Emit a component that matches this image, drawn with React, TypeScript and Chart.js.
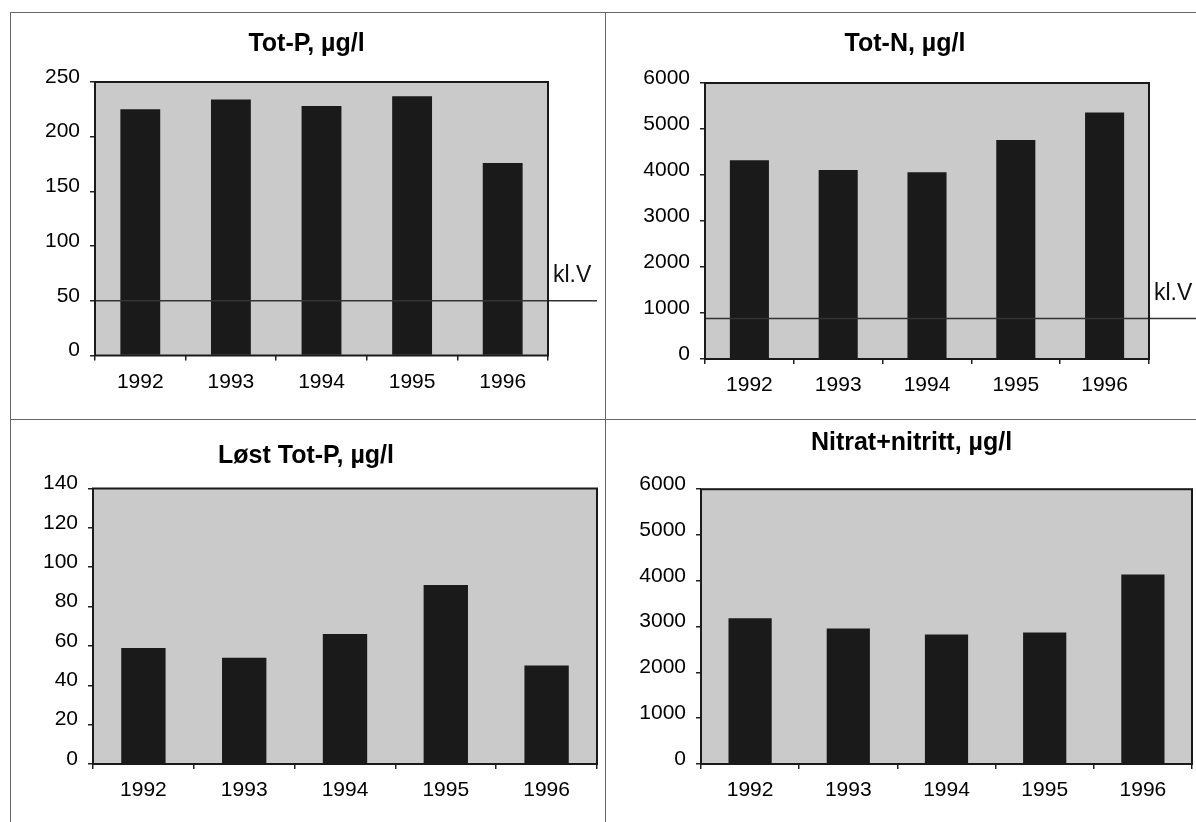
import React, { useEffect, useRef } from 'react';
import { Chart, registerables } from 'chart.js';

Chart.register(...registerables);

// ---------- data ----------
const years = ['1992', '1993', '1994', '1995', '1996'];
const totP = [225, 234, 228, 237, 176];
const totN = [4320, 4110, 4060, 4760, 5360];
const loestTotP = [59, 54, 66, 91, 50];
const nitratNitritt = [3180, 2960, 2830, 2870, 4140];
const klVTotP = 50;
const klVTotN = 880;
const klVLabel = 'kl.V';
const titles = ['Tot-P, µg/l', 'Tot-N, µg/l', 'Løst Tot-P, µg/l', 'Nitrat+nitritt, µg/l'];
const yMaxes = [250, 6000, 140, 6000];
const ySteps = [50, 1000, 20, 1000];

const FONT = '"Liberation Sans", Arial, Helvetica, sans-serif';
const PLOT_BG = '#cacaca';
const BAR = '#1a1a1a';

const plotDeco = {
  id: 'plotDeco',
  beforeDatasetsDraw(chart: any) {
    const { ctx, chartArea: a } = chart;
    ctx.save();
    ctx.fillStyle = PLOT_BG;
    ctx.fillRect(a.left, a.top, a.right - a.left, a.bottom - a.top);
    ctx.restore();
  },
  afterDatasetsDraw(chart: any, _args: any, opts: any) {
    const { ctx, chartArea: a } = chart;
    ctx.save();
    if (opts.klV !== undefined && opts.klV !== null) {
      const y = chart.scales.y.getPixelForValue(opts.klV);
      ctx.strokeStyle = '#333';
      ctx.lineWidth = 1.5;
      ctx.beginPath();
      ctx.moveTo(a.left, y);
      ctx.lineTo(chart.width - (opts.lineGap || 0), y);
      ctx.stroke();
      ctx.fillStyle = '#111';
      ctx.font = `23px ${FONT}`;
      ctx.textBaseline = 'middle';
      ctx.textAlign = 'left';
      ctx.fillText(klVLabel, a.right + 5, y - 25);
    }
    ctx.strokeStyle = '#1a1a1a';
    ctx.lineWidth = 2;
    ctx.strokeRect(a.left, a.top, a.right - a.left, a.bottom - a.top);
    ctx.restore();
  },
};

type Panel = {
  title: string;
  values: number[];
  yMax: number;
  yStep: number;
  klV?: number;
  left: number;
  top: number;
  width: number;
  height: number;
  pad: { left: number; right: number; top: number; bottom: number };
  yWidth: number;
  rWidth: number;
  xHeight: number;
  titlePad: { top: number; bottom: number };
  lineGap: number;
};

const panels: Panel[] = [
  {
    title: titles[0], values: totP, yMax: yMaxes[0], yStep: ySteps[0], klV: klVTotP,
    left: 10, top: 12, width: 595, height: 407,
    pad: { left: 0, right: 2, top: 0, bottom: 23.5 }, yWidth: 85, rWidth: 55, xHeight: 40,
    titlePad: { top: 17, bottom: 23 }, lineGap: 8,
  },
  {
    title: titles[1], values: totN, yMax: yMaxes[1], yStep: ySteps[1], klV: klVTotN,
    left: 605, top: 12, width: 591, height: 407,
    pad: { left: 9, right: 0, top: 0, bottom: 20 }, yWidth: 91, rWidth: 47, xHeight: 40,
    titlePad: { top: 17, bottom: 24 }, lineGap: 0,
  },
  {
    title: titles[2], values: loestTotP, yMax: yMaxes[2], yStep: ySteps[2],
    left: 10, top: 419, width: 595, height: 403,
    pad: { left: 0, right: 3, top: 0, bottom: 18 }, yWidth: 83, rWidth: 5, xHeight: 40,
    titlePad: { top: 22, bottom: 17.5 }, lineGap: 0,
  },
  {
    title: titles[3], values: nitratNitritt, yMax: yMaxes[3], yStep: ySteps[3],
    left: 605, top: 419, width: 591, height: 403,
    pad: { left: 22, right: 0, top: 0, bottom: 18 }, yWidth: 74, rWidth: 4, xHeight: 40,
    titlePad: { top: 9.6, bottom: 30.6 }, lineGap: 0,
  },
];

function BarPanel({ p }: { p: Panel }) {
  const ref = useRef<HTMLCanvasElement | null>(null);
  useEffect(() => {
    if (!ref.current) return;
    const chart = new Chart(ref.current, {
      type: 'bar',
      data: {
        labels: years,
        datasets: [
          {
            data: p.values,
            backgroundColor: BAR,
            borderWidth: 0,
            barPercentage: 0.44,
            categoryPercentage: 1,
            yAxisID: 'y',
          },
        ],
      },
      options: {
        animation: false,
        responsive: false,
        maintainAspectRatio: false,
        layout: { padding: p.pad },
        plugins: {
          legend: { display: false },
          tooltip: { enabled: false },
          title: {
            display: true,
            text: p.title,
            color: '#000',
            font: { family: FONT, size: 25, weight: 'bold', lineHeight: 1.2 },
            padding: p.titlePad,
          },
          plotDeco: { klV: p.klV, lineGap: p.lineGap },
        } as any,
        scales: {
          x: {
            grid: {
              display: true,
              drawOnChartArea: false,
              drawTicks: true,
              tickLength: 5,
              color: '#222',
              lineWidth: 1.5,
              offset: true,
            },
            border: { display: false },
            ticks: {
              color: '#000',
              font: { family: FONT, size: 21 },
              padding: 9,
              autoSkip: false,
              maxRotation: 0,
            },
            afterFit: (s: any) => {
              s.height = p.xHeight;
            },
          },
          y: {
            position: 'left',
            min: 0,
            max: p.yMax,
            grid: {
              display: true,
              drawOnChartArea: false,
              drawTicks: true,
              tickLength: 5,
              color: '#222',
              lineWidth: 1.5,
            },
            border: { display: false },
            ticks: {
              stepSize: p.yStep,
              color: '#000',
              font: { family: FONT, size: 21 },
              padding: 10,
              labelOffset: -5,
              callback: (v: any) => String(v),
            },
            afterFit: (s: any) => {
              s.width = p.yWidth;
            },
          },
          yR: {
            position: 'right',
            display: true,
            min: 0,
            max: p.yMax,
            grid: { display: false, drawTicks: false },
            border: { display: false },
            ticks: { display: false },
            afterFit: (s: any) => {
              s.width = p.rWidth;
            },
          },
        },
      },
      plugins: [plotDeco as any],
    });
    return () => chart.destroy();
  }, [p]);
  return (
    <canvas
      ref={ref}
      width={p.width}
      height={p.height}
      style={{ position: 'absolute', left: p.left, top: p.top, width: p.width, height: p.height }}
    />
  );
}

export default function App() {
  const lineColor = '#666';
  return (
    <div
      style={{
        position: 'absolute',
        left: 0,
        top: 0,
        width: 1196,
        height: 822,
        background: '#fff',
        overflow: 'hidden',
      }}
    >
      {panels.map((p, i) => (
        <BarPanel key={i} p={p} />
      ))}
      <div style={{ position: 'absolute', left: 10, top: 12, width: 1186, height: 1, background: lineColor }} />
      <div style={{ position: 'absolute', left: 10, top: 12, width: 1, height: 810, background: lineColor }} />
      <div style={{ position: 'absolute', left: 605, top: 12, width: 1, height: 810, background: lineColor }} />
      <div style={{ position: 'absolute', left: 10, top: 419, width: 1186, height: 1, background: lineColor }} />
    </div>
  );
}
